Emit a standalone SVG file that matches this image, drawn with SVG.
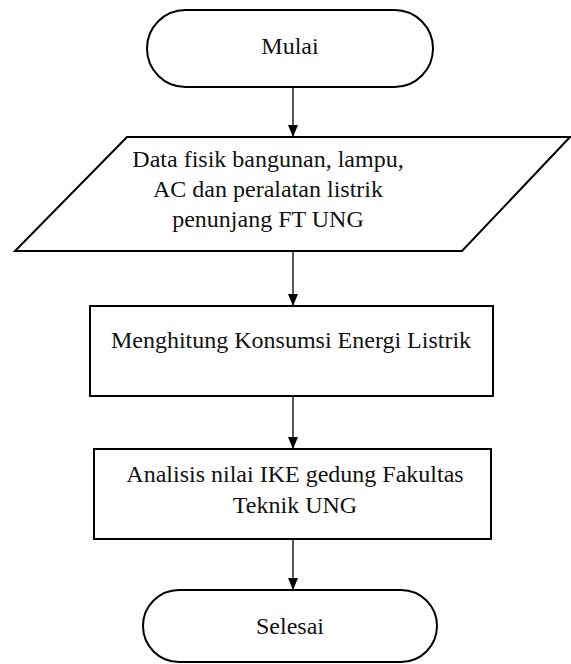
<svg xmlns="http://www.w3.org/2000/svg" width="571" height="664" viewBox="0 0 571 664">
<style>
.shape{fill:#fff;stroke:#000;stroke-width:2}
.c{stroke:#000;stroke-width:1.3;fill:none}
</style>
<rect width="571" height="664" fill="#fff"/>
<g id="connectors">
<line class="c" x1="293" y1="87" x2="293" y2="137"/>
<path d="M288,125 L298,125 L293,137 Z" fill="#000"/>
<line class="c" x1="293" y1="251" x2="293" y2="306"/>
<path d="M288,294 L298,294 L293,306 Z" fill="#000"/>
<line class="c" x1="293" y1="396" x2="293" y2="449"/>
<path d="M288,437 L298,437 L293,449 Z" fill="#000"/>
<line class="c" x1="293" y1="539" x2="293" y2="590"/>
<path d="M288,578 L298,578 L293,590 Z" fill="#000"/>
</g>
<g id="mulai">
<rect class="shape" x="147" y="10" width="286" height="77" rx="38.5" ry="38.5"/>
<text x="290" y="54" font-family="Liberation Serif" font-size="24" fill="#111" text-anchor="middle">Mulai</text>
</g>
<g id="data">
<polygon class="shape" points="127,137 570,137 462,251 15,251"/>
<text x="268" y="167" font-family="Liberation Serif" font-size="24" fill="#111" text-anchor="middle">Data fisik bangunan, lampu,</text>
<text x="268" y="197" font-family="Liberation Serif" font-size="24" fill="#111" text-anchor="middle">AC dan peralatan listrik</text>
<text x="268" y="227" font-family="Liberation Serif" font-size="24" fill="#111" text-anchor="middle">penunjang FT UNG</text>
</g>
<g id="hitung">
<rect class="shape" x="90" y="306" width="403" height="90"/>
<text x="291" y="348" font-family="Liberation Serif" font-size="24" fill="#111" text-anchor="middle">Menghitung Konsumsi Energi Listrik</text>
</g>
<g id="analisis">
<rect class="shape" x="94" y="449" width="397" height="90"/>
<text x="295" y="482" font-family="Liberation Serif" font-size="24" fill="#111" text-anchor="middle">Analisis nilai IKE gedung Fakultas</text>
<text x="295" y="513" font-family="Liberation Serif" font-size="24" fill="#111" text-anchor="middle">Teknik UNG</text>
</g>
<g id="selesai">
<rect class="shape" x="143" y="590" width="294" height="72" rx="36" ry="36"/>
<text x="290" y="634" font-family="Liberation Serif" font-size="24" fill="#111" text-anchor="middle">Selesai</text>
</g>
</svg>
